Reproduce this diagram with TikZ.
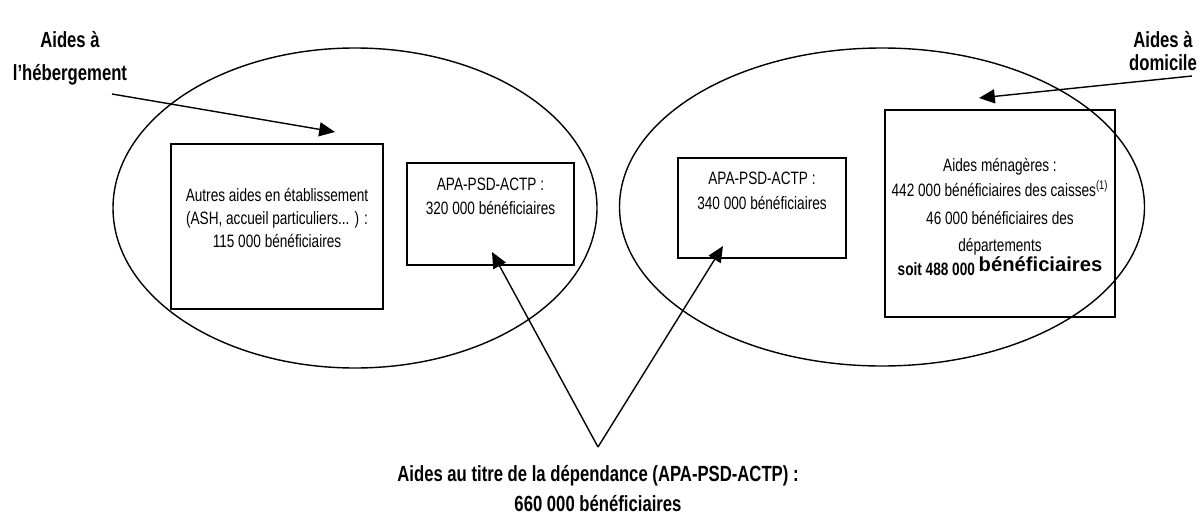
\documentclass[tikz,border=0pt]{standalone}
\usepackage{fontspec}
\setmainfont{Liberation Sans}[FakeStretch=0.76]
\newfontfamily\widefont{Liberation Sans}
\usetikzlibrary{arrows.meta,shapes.geometric,positioning}

\tikzset{
  zone/.style={draw, ellipse, thick, inner sep=0pt},
  cadre/.style={draw, thick, inner sep=0pt},
  texte/.style={font=\fontsize{10.2}{12}\selectfont, align=center, inner sep=0pt},
  titre/.style={font=\fontsize{12.5}{15}\selectfont\bfseries, align=center, inner sep=0pt},
  fleche/.style={thick, -{Triangle[length=9pt,width=8pt]}}
}

\begin{document}
\begin{tikzpicture}[x=0.02cm, y=-0.02cm]
    \useasboundingbox (0,0) rectangle (1200,517);

    % les deux zones
    \node[zone, minimum width=484*0.02cm, minimum height=320*0.02cm] (heberg) at (355,208) {};
    \node[zone, minimum width=525*0.02cm, minimum height=318*0.02cm] (domic) at (882,207) {};

    % les cadres
    \node[cadre, minimum width=212*0.02cm, minimum height=165*0.02cm] (autres) at (277,226.5) {};
    \node[cadre, minimum width=167*0.02cm, minimum height=102*0.02cm] (apaetab) at (490.5,214) {};
    \node[cadre, minimum width=168*0.02cm, minimum height=100*0.02cm] (apadom) at (762,208) {};
    \node[cadre, minimum width=230*0.02cm, minimum height=207*0.02cm] (menag) at (1000,213.5) {};

    % textes des cadres
    \node[texte] (tautres) at (277,218)
      {Autres aides en établissement\\[1pt](ASH, accueil particuliers... ) :\\[1pt]115 000 bénéficiaires};
    \node[texte] (tapaetab) at (490.5,196.5)
      {APA-PSD-ACTP :\\[2pt]320 000 bénéficiaires};
    \node[texte] (tapadom) at (762,191)
      {APA-PSD-ACTP :\\[2pt]340 000 bénéficiaires};
    \node[texte] (tmenag) at (1000,217)
      {Aides ménagères :\\[2pt]
       442 000 bénéficiaires des caisses\textsuperscript{\fontsize{7}{8}\selectfont(1)}\\[4pt]
       46 000 bénéficiaires des\\[3.5pt]
       départements\\[0pt]
       \textbf{soit 488 000 \raisebox{2pt}{\widefont\fontsize{11.5}{13}\selectfont bénéficiaires}}};

    % titres
    \node[titre] (theberg) at (70,58) {Aides à\\[4pt]l'hébergement};
    \node[titre] (tdomic) at (1163,51) {Aides à\\[-1.5pt]domicile};
    \node[titre] (tdepend) at (598,488.5) {Aides au titre de la dépendance (APA-PSD-ACTP) :\\[2pt]660 000 bénéficiaires};

    % extremites des fleches
    \coordinate (hdep) at (112,94);
    \coordinate (hfin) at (335,132);
    \coordinate (ddep) at (1192,76);
    \coordinate (dfin) at (979,98);
    \coordinate (sommet) at (598,447);
    \coordinate (gfin) at (492,252);
    \coordinate (rfin) at (723,246);

    \draw[fleche] (hdep) -- (hfin);
    \draw[fleche] (ddep) -- (dfin);
    \draw[fleche] (sommet) -- (gfin);
    \draw[fleche] (sommet) -- (rfin);
  \end{tikzpicture}
\end{document}
